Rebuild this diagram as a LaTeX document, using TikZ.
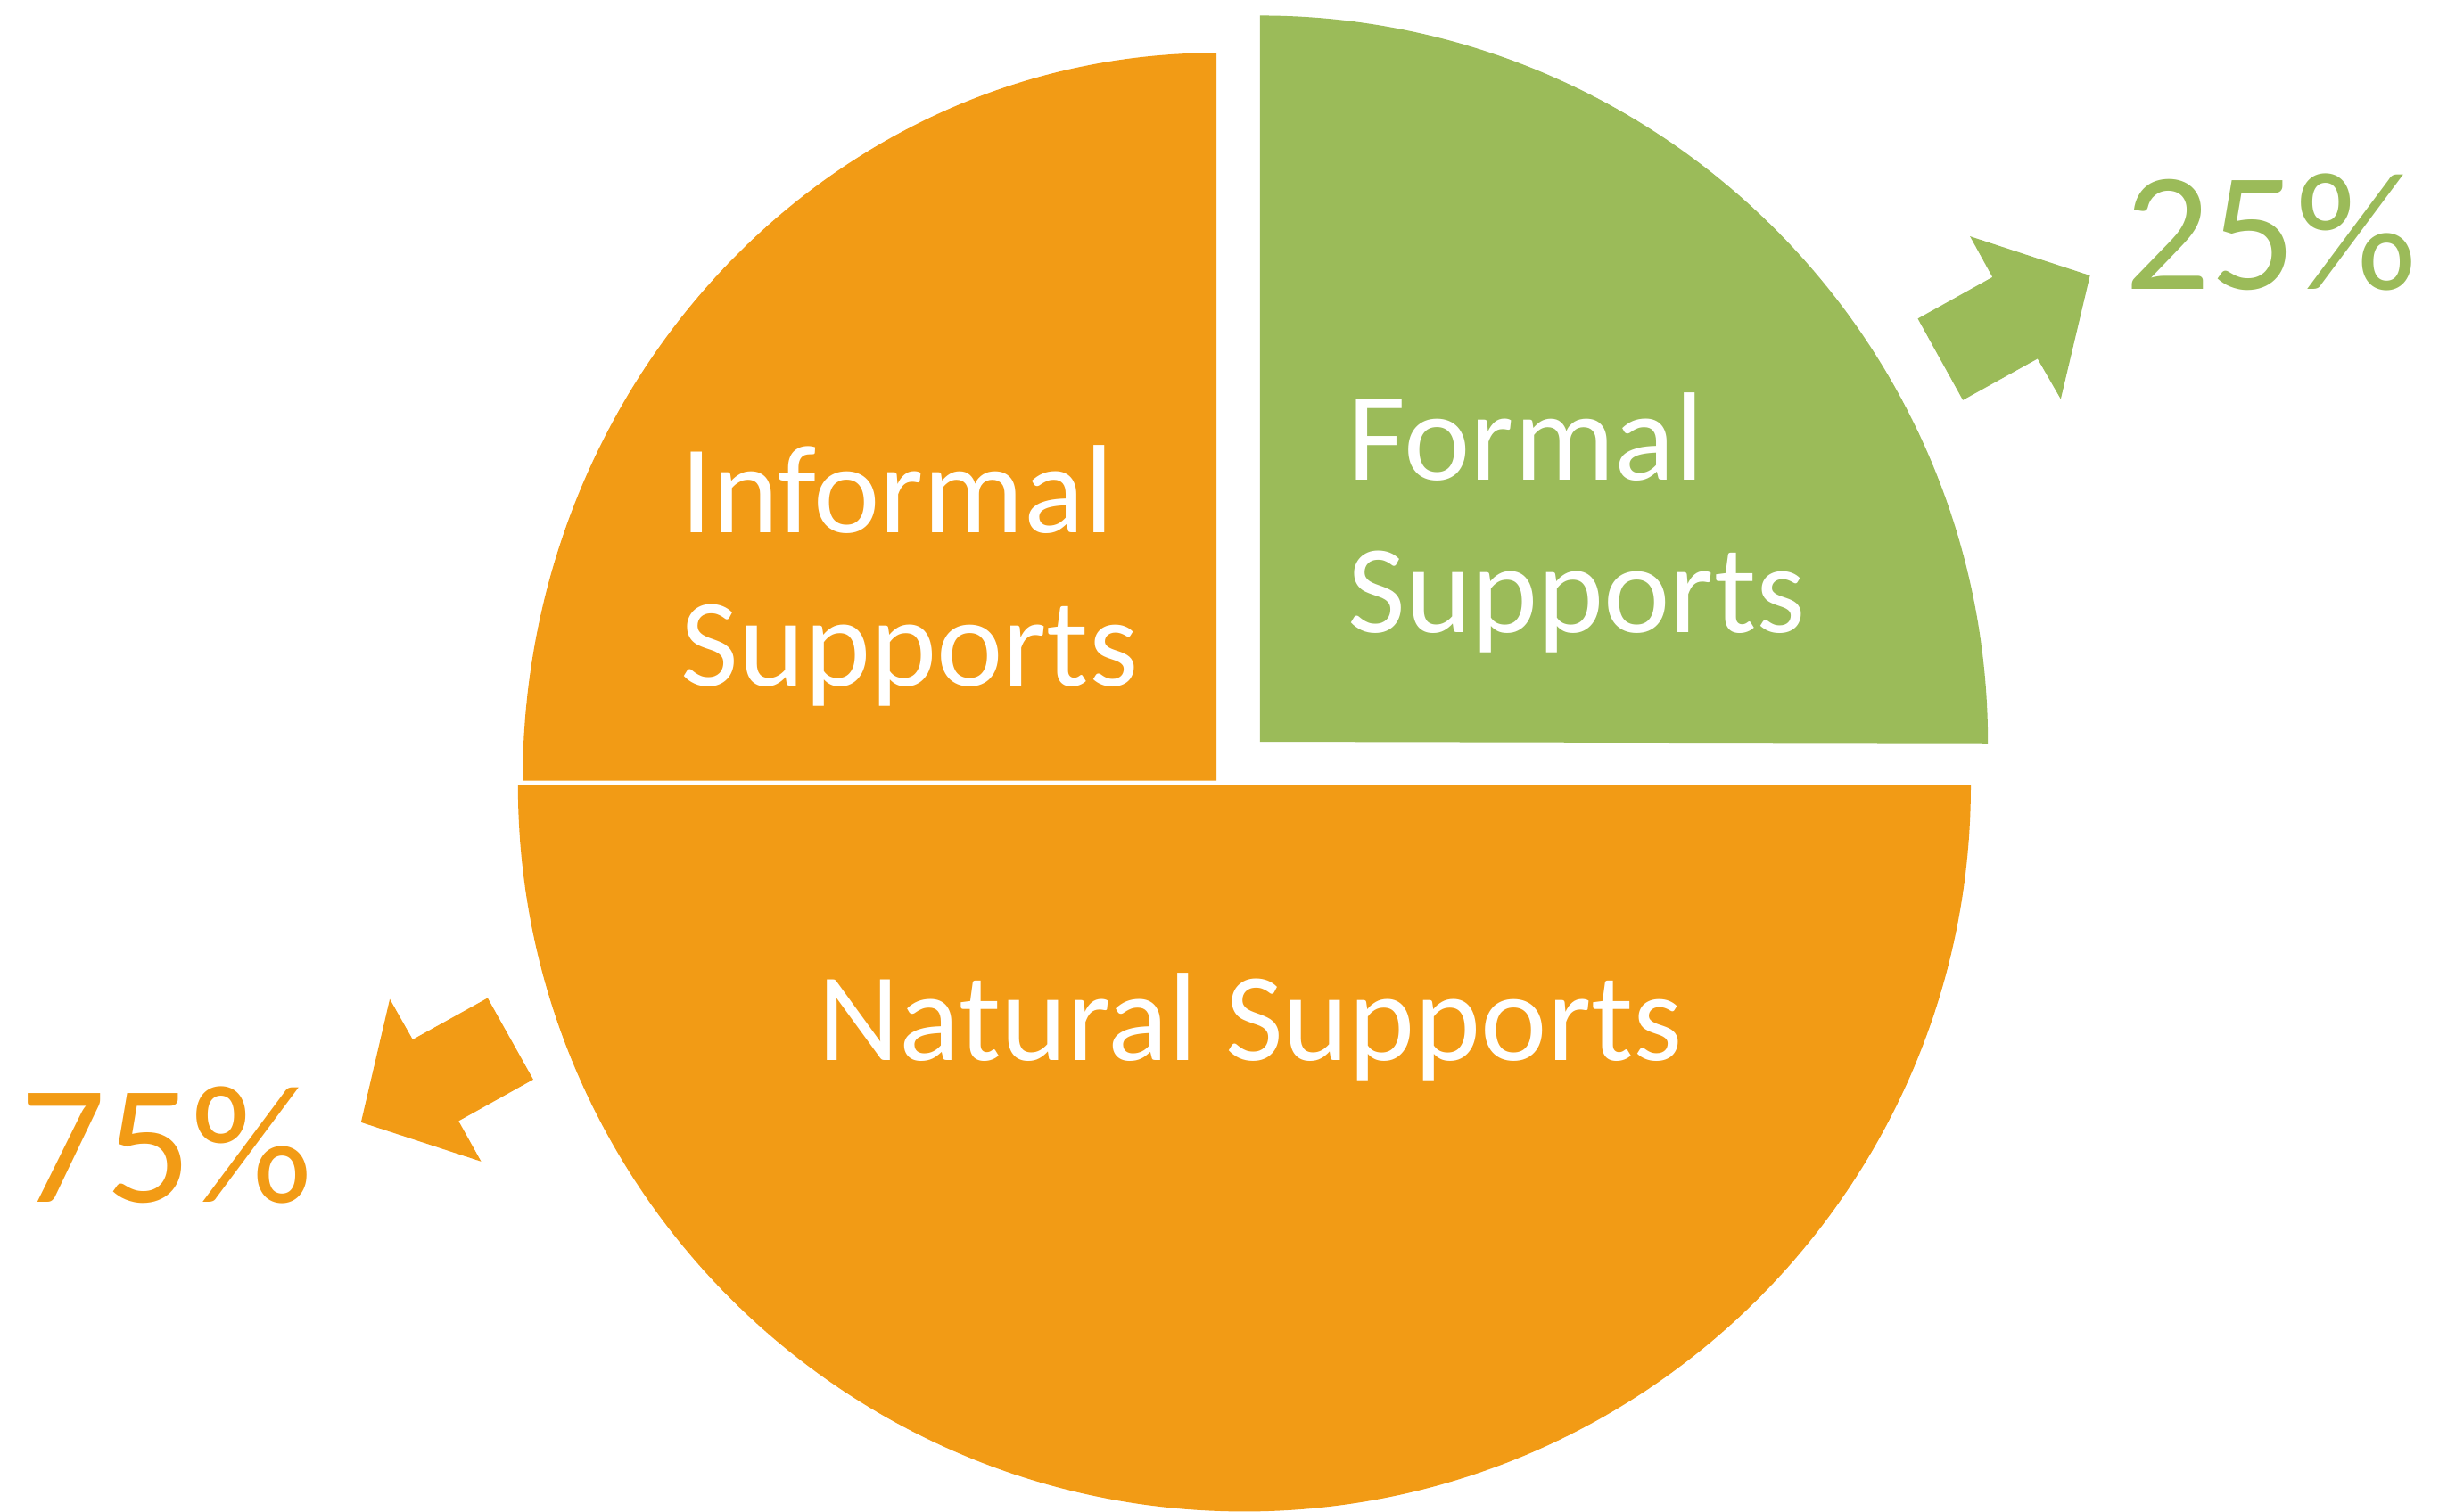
\documentclass[tikz,border=0pt]{standalone}
\usepackage{fontspec}
\setmainfont{Carlito}
\usepackage{tikz}
\usetikzlibrary{calc}
\definecolor{supportorange}{RGB}{242,155,21}
\definecolor{supportgreen}{RGB}{155,187,89}
\tikzset{
	slicetext/.style={text=white, inner sep=0pt, align=left, font=\fontsize{23}{28}\selectfont},
	pcttext/.style={inner sep=0pt, font=\fontsize{31}{37}\selectfont}
}

\begin{document}
\begin{tikzpicture}
		\useasboundingbox (0,0) rectangle (15.68,9.72);
		% the three slices
		\fill[supportorange] (3.33,4.67) arc[start angle=180, end angle=360, radius=4.67] -- cycle;
		\fill[supportorange] (7.82,4.70) -- (3.36,4.70) arc[start angle=180, end angle=90, x radius=4.46, y radius=4.68] -- cycle;
		\fill[supportgreen] (8.10,4.95) -- (8.10,9.62) arc[start angle=90, end angle=0, radius=4.68] -- cycle;
		
		\draw (4.37,5.31) node[slicetext, anchor=base west](informal){Informal\\Supports};
		\draw (8.66,5.65) node[slicetext, anchor=base west](formal){Formal\\Supports};
		\draw (8.04,2.90) node[slicetext, anchor=base](natural){Natural Supports};
		
		\draw (13.65,7.86) node[pcttext, text=supportgreen, anchor=base west](pctformal){25\%};
		\draw (0.12,1.99) node[pcttext, text=supportorange, anchor=base west](pctnatural){75\%};
		
		% block arrows
		\fill[supportgreen] (13.436,7.948) -- (12.665,8.200) -- (12.809,7.938) -- (12.329,7.671) -- (12.619,7.147) -- (13.099,7.413) -- (13.248,7.154) -- cycle;
		\fill[supportorange] (2.321,2.503) -- (2.506,3.295) -- (2.653,3.035) -- (3.135,3.302) -- (3.428,2.778) -- (2.948,2.511) -- (3.093,2.251) -- cycle;
	\end{tikzpicture}
\end{document}
